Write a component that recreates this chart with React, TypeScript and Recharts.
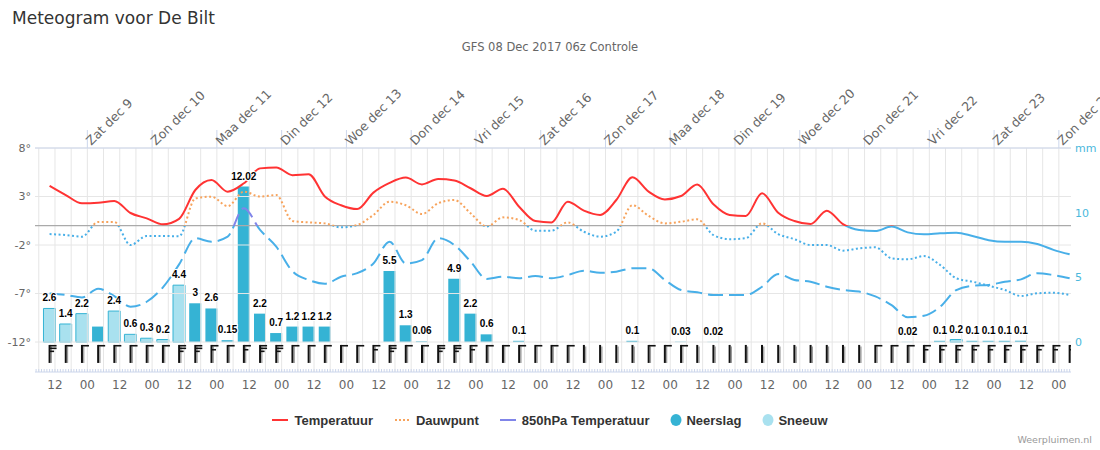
import React from 'react';
import { ComposedChart, Line, Bar, Scatter, XAxis, YAxis, ReferenceLine, LabelList } from 'recharts';

// hours relative to Sat Dec 9 00:00 (local time)
const hours = [
  -14, -8, -2, 4, 10, 16, 22, 28, 34, 40,
  46, 52, 58, 64, 70, 76, 82, 88, 94, 100,
  106, 112, 118, 124, 130, 136, 142, 148, 154, 160,
  166, 172, 178, 184, 190, 196, 202, 208, 214, 220,
  226, 232, 238, 244, 250, 256, 262, 268, 274, 280,
  286, 292, 298, 304, 310, 316, 322, 328, 334, 340,
  346, 352, 358, 364,
];

const temperature = [
  4.1, 3.15, 2.3, 2.36, 2.54, 1.3, 0.75, 0.13, 0.7, 3.67,
  4.7, 3.5, 4.36, 5.9, 6.0, 5.2, 5.3, 3.0, 2.1, 1.7,
  3.4, 4.4, 4.95, 4.25, 4.8, 4.65, 3.85, 3.05, 3.8, 1.95,
  0.47, 0.33, 2.46, 1.54, 1.1, 2.64, 4.98, 3.5, 2.7, 3.05,
  4.25, 2.2, 1.1, 1.0, 3.33, 1.33, 0.47, 0.16, 1.54, 0.16,
  -0.45, -0.56, -0.1, -0.7, -0.9, -0.8, -0.73, -1.07, -1.5, -1.66,
  -1.66, -1.9, -2.5, -2.96,
];

const dewPoint = [
  -0.87, -0.97, -1.14, 0.37, 0.37, -2.0, -1.07, -1.07, -1.1, 2.8,
  2.98, 2.0, 3.5, 3.0, 3.15, 0.47, 0.33, 0.23, -0.18, 0.06,
  1.1, 2.46, 2.1, 1.2, 2.3, 2.64, 1.27, -0.1, 0.85, 0.58,
  -0.52, -0.52, 0.33, -0.63, -1.14, -0.63, 2.1, 1.0, 0.23, 0.4,
  0.65, -0.97, -1.4, -1.3, 0.23, -0.87, -1.4, -2.0, -2.0, -2.58,
  -2.34, -2.24, -3.37, -3.48, -3.13, -4.06, -5.43, -5.78, -6.2, -6.64,
  -7.26, -6.98, -6.92, -7.15,
];

const temp850 = [
  -7.0, -7.15, -7.4, -6.5, -7.26, -8.36, -7.85, -6.36, -4.0, -1.3,
  -1.66, -1.14, 1.8, -0.45, -2.17, -4.7, -5.6, -6.0, -5.27, -4.9,
  -3.9, -1.66, -3.9, -3.55, -1.3, -2.0, -3.7, -5.5, -5.27, -5.43,
  -5.2, -5.43, -5.1, -4.65, -4.86, -4.75, -4.4, -4.4, -5.6, -6.64,
  -6.88, -7.15, -7.15, -7.15, -6.3, -5.0, -5.6, -5.78, -6.3, -6.64,
  -6.8, -7.3, -8.2, -9.45, -9.3, -8.36, -6.64, -6.2, -6.12, -5.78,
  -5.54, -4.9, -5.1, -5.43,
];

const rain = [
  0, 0, 0, 1.2, 0, 0, 0, 0, 0, 3,
  2.6, 0.15, 12.02, 2.2, 0.7, 1.2, 1.2, 1.2, 0, 0,
  0, 5.5, 1.3, 0.06, 0, 4.9, 2.2, 0.6, 0, 0.1,
  0, 0, 0, 0, 0, 0, 0.1, 0, 0, 0.03,
  0, 0.02, 0, 0, 0, 0, 0, 0, 0, 0,
  0, 0, 0, 0.02, 0, 0.1, 0, 0.1, 0.1, 0.1,
  0.1, 0, 0, 0,
];

const snow = [
  2.6, 1.4, 2.2, 0, 2.4, 0.6, 0.3, 0.2, 4.4, 0,
  0, 0, 0, 0, 0, 0, 0, 0, 0, 0,
  0, 0, 0, 0, 0, 0, 0, 0, 0, 0,
  0, 0, 0, 0, 0, 0, 0, 0, 0, 0,
  0, 0, 0, 0, 0, 0, 0, 0, 0, 0,
  0, 0, 0, 0, 0, 0, 0.2, 0, 0, 0,
  0, 0, 0, 0,
];

// wind barb feathers: 0 = stem only, 1 = one full, 2 = full + half, 3 = two full + half
const windBarbs = [
  3, 1, 1, 1, 1, 1, 1, 1, 3, 3,
  2, 1, 2, 3, 3, 1, 1, 1, 1, 1,
  2, 3, 1, 1, 3, 3, 2, 1, 1, 1,
  1, 1, 1, 0, 0, 0, 0, 1, 1, 1,
  0, 0, 0, 0, 0, 0, 0, 0, 0, 0,
  0, 1, 1, 1, 2, 2, 2, 2, 2, 2,
  2, 2, 2, 2,
];

// precipitation labels that are hidden in the original (overlap)
const hiddenRainLabels = [3];

const dayTicks = [0, 24, 48, 72, 96, 120, 144, 168, 192, 216, 240, 264, 288, 312, 336, 360];
const dayLabels = [
  'Zat dec 9', 'Zon dec 10', 'Maa dec 11', 'Din dec 12', 'Woe dec 13', 'Don dec 14',
  'Vri dec 15', 'Zat dec 16', 'Zon dec 17', 'Maa dec 18', 'Din dec 19', 'Woe dec 20',
  'Don dec 21', 'Vri dec 22', 'Zat dec 23', 'Zon dec 24',
];
const hourLabels = ['00', '12'];
const tempTicks = [8, 3, -2, -7, -12];
const rainTicks = [0, 5, 10, 15];

const legendItems = [
  { name: 'Temperatuur', kind: 'line', color: '#ff3333' },
  { name: 'Dauwpunt', kind: 'dot', color: '#f7a35c' },
  { name: '850hPa Temperatuur', kind: 'line', color: '#8085e9' },
  { name: 'Neerslag', kind: 'circle', color: '#35b3d4' },
  { name: 'Sneeuw', kind: 'circle', color: '#a9e1ef' },
];

// ---------- layout constants ----------
const W = 1100;
const H = 450;
const PLOT_TOP = 148;
const PLOT_BOTTOM = 372;
const X_DOMAIN: [number, number] = [-19.4, 364.5];
const T_DOMAIN: [number, number] = [-15.09, 8];
const R_DOMAIN: [number, number] = [-2.31, 15];
const BARB_LEVEL = -12.3;
const FONT = "'DejaVu Sans', 'Liberation Sans', sans-serif";
const NARROW = "'Liberation Sans', Arial, sans-serif";

const zeroY = PLOT_TOP + ((T_DOMAIN[1] - 0) / (T_DOMAIN[1] - T_DOMAIN[0])) * (PLOT_BOTTOM - PLOT_TOP);
const zeroOffset = zeroY / H;

const table = hours.map((h, i) => ({
  h,
  temperature: temperature[i],
  dewPoint: dewPoint[i],
  temp850: temp850[i],
  rain: rain[i],
  snow: snow[i],
  rainLabel: hiddenRainLabels.indexOf(i) >= 0 || !rain[i] ? null : rain[i],
  snowLabel: snow[i] ? snow[i] : null,
  barb: windBarbs[i],
  barbY: BARB_LEVEL,
}));

const gridHours: number[] = [];
for (let h = -18; h <= 364; h += 6) gridHours.push(h);
const minorTicks: number[] = [];
for (let h = Math.ceil(X_DOMAIN[0]); h <= X_DOMAIN[1]; h += 1) minorTicks.push(h);

const TopTick = (props: any) => {
  const { x, y, payload } = props;
  const idx = dayTicks.indexOf(payload.value);
  if (idx < 0) return null;
  return (
    <text
      transform={`translate(${x + 4},${y + 16}) rotate(-45)`}
      fontSize={12.5}
      fill="#666666"
      fontFamily={FONT}
    >
      {dayLabels[idx]}
    </text>
  );
};

const BottomTick = (props: any) => {
  const { x, y, payload } = props;
  const v = payload.value;
  const m = ((v % 24) + 24) % 24;
  const label = m === 0 ? hourLabels[0] : m === 12 ? hourLabels[1] : null;
  return (
    <g>
      <line x1={x} x2={x} y1={y - 3} y2={y} stroke="#ccd6eb" strokeWidth={1} />
      {label && (
        <text x={x} y={y + 17} textAnchor="middle" fontSize={12} fill="#666666" fontFamily={FONT}>
          {label}
        </text>
      )}
    </g>
  );
};

const renderLabel = (props: any) => {
  const { x, y, width, value } = props;
  if (value == null || value === 0) return null;
  return (
    <text
      x={x + width / 2}
      y={y - 7}
      textAnchor="middle"
      fontSize={10}
      fontWeight="bold"
      fill="#000"
      stroke="#fff"
      strokeWidth={2}
      paintOrder="stroke"
      fontFamily={NARROW}
    >
      {String(value)}
    </text>
  );
};

const BarbShape = (props: any) => {
  const { cx, cy, payload } = props;
  if (cx == null || cy == null) return null;
  const t = payload.barb;
  const stemLen = 18;
  const full = 7;
  const half = 4.5;
  const feathers: { dy: number; len: number }[] = [];
  if (t === 1) feathers.push({ dy: 0, len: full });
  if (t === 2) {
    feathers.push({ dy: 0, len: full });
    feathers.push({ dy: 4, len: half });
  }
  if (t === 3) {
    feathers.push({ dy: 0, len: full });
    feathers.push({ dy: 2.6, len: full });
    feathers.push({ dy: 5.6, len: half });
  }
  return (
    <g>
      <line x1={cx + 1.8} x2={cx + 1.8} y1={cy + 1.5} y2={cy + stemLen} stroke="#9a9a9a" strokeWidth={1.2} />
      <line x1={cx} x2={cx} y1={cy} y2={cy + stemLen} stroke="#111" strokeWidth={2} />
      {feathers.map((f, i) => (
        <line key={i} x1={cx} x2={cx + f.len} y1={cy + f.dy + 0.8} y2={cy + f.dy + 0.8} stroke="#111" strokeWidth={1.6} />
      ))}
    </g>
  );
};

const Legend = () => (
  <div
    style={{
      position: 'absolute',
      left: 0,
      top: 411,
      width: W,
      display: 'flex',
      justifyContent: 'center',
      gap: 21,
      fontFamily: NARROW,
      fontSize: 13,
      fontWeight: 'bold',
      color: '#333333',
    }}
  >
    {legendItems.map((it) => (
      <div key={it.name} style={{ display: 'flex', alignItems: 'center', height: 18 }}>
        <svg
          width={it.kind === 'circle' ? 12 : 16}
          height={14}
          style={{ marginRight: it.kind === 'circle' ? 4 : 6 }}
        >
          {it.kind === 'line' && <line x1={0} x2={16} y1={7} y2={7} stroke={it.color} strokeWidth={2} />}
          {it.kind === 'dot' && (
            <line x1={1} x2={16} y1={7} y2={7} stroke={it.color} strokeWidth={2} strokeDasharray="2 2" />
          )}
          {it.kind === 'circle' && <ellipse cx={6} cy={7} rx={5.5} ry={6} fill={it.color} />}
        </svg>
        <span>{it.name}</span>
      </div>
    ))}
  </div>
);

export default function App() {
  return (
    <div style={{ position: 'absolute', left: 0, top: 0, width: W, height: H, background: '#fff' }}>
      <svg width={W} height={60} style={{ position: 'absolute', left: 0, top: 0 }}>
        <text x={12} y={24} fontSize={17} fill="#333333" fontFamily={FONT}>
          Meteogram voor De Bilt
        </text>
        <text x={550} y={51} fontSize={11.5} fill="#666666" textAnchor="middle" fontFamily={FONT}>
          GFS 08 Dec 2017 06z Controle
        </text>
      </svg>
      <div style={{ position: 'absolute', left: 0, top: 0 }}>
        <ComposedChart
          width={W}
          height={H}
          data={table}
          margin={{ top: 108, right: 0, bottom: 48, left: 0 }}
          style={{ fontFamily: FONT }}
        >
          <defs>
            <linearGradient id="gTemp" gradientUnits="userSpaceOnUse" x1={0} y1={0} x2={0} y2={H}>
              <stop offset={zeroOffset} stopColor="#ff3333" />
              <stop offset={zeroOffset} stopColor="#48afe8" />
            </linearGradient>
            <linearGradient id="gDew" gradientUnits="userSpaceOnUse" x1={0} y1={0} x2={0} y2={H}>
              <stop offset={zeroOffset} stopColor="#f7a35c" />
              <stop offset={zeroOffset} stopColor="#48afe8" />
            </linearGradient>
            <linearGradient id="g850" gradientUnits="userSpaceOnUse" x1={0} y1={0} x2={0} y2={H}>
              <stop offset={zeroOffset} stopColor="#8085e9" />
              <stop offset={zeroOffset} stopColor="#48afe8" />
            </linearGradient>
          </defs>

          <XAxis
            xAxisId="top"
            orientation="top"
            dataKey="h"
            type="number"
            domain={X_DOMAIN}
            allowDataOverflow
            ticks={dayTicks}
            interval={0}
            height={40}
            tickSize={18}
            tickMargin={0}
            axisLine={{ stroke: '#ccd6eb' }}
            tickLine={{ stroke: '#ccd6eb' }}
            tick={<TopTick />}
          />
          <XAxis
            xAxisId="bottom"
            dataKey="h"
            type="number"
            domain={X_DOMAIN}
            allowDataOverflow
            ticks={minorTicks}
            interval={0}
            height={30}
            tickSize={0}
            tickMargin={0}
            tickLine={false}
            axisLine={{ stroke: '#ccd6eb' }}
            tick={<BottomTick />}
          />
          <YAxis
            yAxisId="temp"
            orientation="left"
            type="number"
            domain={T_DOMAIN}
            allowDataOverflow
            ticks={tempTicks}
            interval={0}
            width={35}
            axisLine={false}
            tickLine={false}
            tickSize={0}
            tickMargin={4}
            tick={{ fontSize: 11, fill: '#666666' }}
            tickFormatter={(v: number) => `${v}°`}
          />
          <YAxis
            yAxisId="rain"
            orientation="right"
            type="number"
            domain={R_DOMAIN}
            allowDataOverflow
            ticks={rainTicks}
            interval={0}
            width={29}
            axisLine={false}
            tickLine={false}
            tickSize={0}
            tickMargin={4}
            tick={{ fontSize: 11, fill: '#4ab8dc' }}
            tickFormatter={(v: number) => (v === 15 ? 'mm' : String(v))}
          />

          {gridHours.map((h) => (
            <ReferenceLine key={`v${h}`} x={h} xAxisId="bottom" yAxisId="temp" stroke="#e6e6e6" strokeWidth={1} />
          ))}
          {tempTicks.map((t) => (
            <ReferenceLine key={`t${t}`} y={t} xAxisId="bottom" yAxisId="temp" stroke="#e6e6e6" strokeWidth={1} />
          ))}
          <ReferenceLine y={0} xAxisId="bottom" yAxisId="temp" stroke="#aaaaaa" strokeWidth={1.2} />

          <Line
            xAxisId="bottom"
            yAxisId="temp"
            dataKey="temp850"
            type="monotone"
            stroke="url(#g850)"
            strokeWidth={2}
            strokeDasharray="15 6"
            dot={false}
            activeDot={false}
            isAnimationActive={false}
          />

          <Bar
            xAxisId="bottom"
            yAxisId="rain"
            dataKey="snow"
            stackId="p"
            barSize={12}
            fill="#a9e1ef"
            stroke="#35b3d4"
            strokeWidth={1}
            isAnimationActive={false}
          >
            <LabelList dataKey="snowLabel" content={renderLabel} />
          </Bar>
          <Bar
            xAxisId="bottom"
            yAxisId="rain"
            dataKey="rain"
            stackId="p"
            barSize={12}
            fill="#35b3d4"
            isAnimationActive={false}
          >
            <LabelList dataKey="rainLabel" content={renderLabel} />
          </Bar>

          <Line
            xAxisId="bottom"
            yAxisId="temp"
            dataKey="dewPoint"
            type="monotone"
            stroke="url(#gDew)"
            strokeWidth={2}
            strokeDasharray="2 2.5"
            dot={false}
            activeDot={false}
            isAnimationActive={false}
          />
          <Line
            xAxisId="bottom"
            yAxisId="temp"
            dataKey="temperature"
            type="monotone"
            stroke="url(#gTemp)"
            strokeWidth={2}
            dot={false}
            activeDot={false}
            isAnimationActive={false}
          />

          <Scatter
            xAxisId="bottom"
            yAxisId="temp"
            dataKey="barbY"
            shape={<BarbShape />}
            isAnimationActive={false}
          />
        </ComposedChart>
      </div>
      <Legend />
      <div
        style={{
          position: 'absolute',
          right: 8,
          top: 434,
          fontFamily: FONT,
          fontSize: 9.5,
          color: '#999999',
        }}
      >
        Weerpluimen.nl
      </div>
    </div>
  );
}
